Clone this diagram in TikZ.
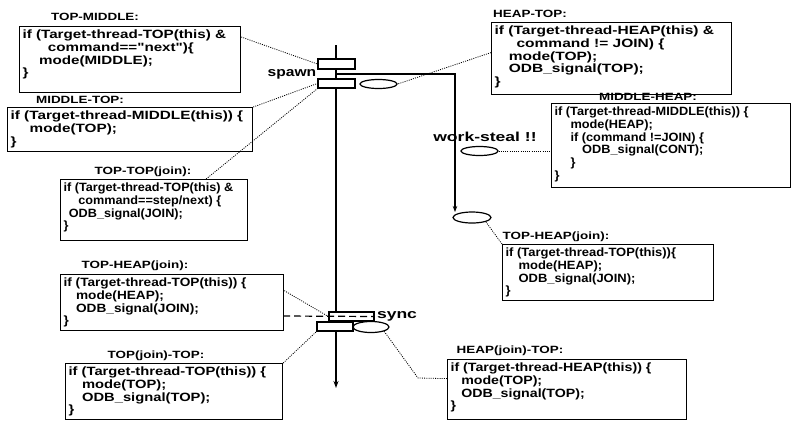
\documentclass[tikz,border=0pt]{standalone}
\usepackage{fontspec}
\setmainfont{Liberation Sans}[Ligatures=TeXOff]
\usepackage{graphicx}
\usetikzlibrary{shapes.geometric,arrows.meta}
\newcommand{\cb}[4]{\parbox[t][#2][t]{#1}{\vspace{0pt}\fontsize{12pt}{12.8pt}\selectfont\bfseries\scalebox{#3}[1]{\begin{tabular}[t]{@{}l@{}}#4\end{tabular}}}}
\newcommand{\lb}[1]{\fontsize{10.5pt}{12pt}\selectfont\bfseries\scalebox{1.28}[1]{#1}}
\newcommand{\ind}[1]{\hspace*{#1pt}}
\begin{document}
\begin{tikzpicture}[x=1pt,y=-1pt,
 cbox/.style={draw, line width=1.2pt, inner xsep=3pt, inner ysep=3pt, anchor=north west},
 lab/.style={inner sep=0pt},
 big/.style={inner sep=0pt, font=\fontsize{13pt}{15pt}\selectfont\bfseries},
 srect/.style={draw, line width=1.3pt, fill=white, rectangle, inner sep=0pt},
 oval/.style={draw, line width=1.2pt, fill=white, ellipse, inner sep=0pt},
 dots/.style={line width=0.8pt, dash pattern=on 1pt off 1.2pt},
 thr/.style={line width=1.6pt}]
\fill[white] (0,0) rectangle (795,424);
\useasboundingbox (0,0) rectangle (795,424);

% threads
\coordinate (mtop) at (336,45);
\coordinate (mbot) at (336,388);
\coordinate (fork) at (336,74);
\coordinate (ws) at (455,212);
\coordinate (d0) at (283,316);
\coordinate (k9) at (418,378);
\draw[thr, -{Stealth[length=7pt,width=5pt]}] (mtop) -- (mbot);
\draw[line width=1.3pt, -{Stealth[length=6pt,width=4.5pt]}] (fork) -| (ws);

% spawn / sync blocks and ovals
\node[srect, minimum width=37pt, minimum height=10pt] (sA) at (336.5,64) {};
\node[srect, minimum width=37pt, minimum height=9pt] (sB) at (336.5,83.5) {};
\node[srect, minimum width=45pt, minimum height=9pt] (yA) at (351.5,316.5) {};
\node[srect, minimum width=36pt, minimum height=9pt] (yB) at (335,326.5) {};
\node[oval, minimum width=37pt, minimum height=9pt] (e1) at (378.5,84) {};
\node[oval, minimum width=37pt, minimum height=9pt] (e2) at (479.5,151) {};
\node[oval, minimum width=38pt, minimum height=11pt] (e3) at (472,217.5) {};
\node[oval, minimum width=36pt, minimum height=11pt] (e4) at (371,327) {};
\draw[line width=1.2pt, dash pattern=on 7pt off 4pt] (d0) -- (yA.east);

\node[big] (spawn) at (292,74) {\scalebox{1.2}[1]{spawn}};
\node[big] (wsl) at (485,137) {\scalebox{1.35}[1]{work-steal !!}};
\node[big] (sync) at (397,316) {\scalebox{1.35}[1]{sync}};

% left boxes
\node[lab] (l1) at (95,17) {\lb{TOP-MIDDLE:}};
\node[cbox] (b1) at (19,26) {\cb{215pt}{60pt}{1.265}{if (Target-thread-TOP(this) \&\\ \ind{20}command=="next")\{\\ \ind{13}mode(MIDDLE);\\ \}}};
\node[lab] (l2) at (80,100) {\lb{MIDDLE-TOP:}};
\node[cbox] (b2) at (7,107) {\cb{239pt}{38pt}{1.275}{if (Target-thread-MIDDLE(this)) \{\\ \ind{15}mode(TOP);\\ \}}};
\node[lab] (l3) at (143,172) {\lb{TOP-TOP(join):}};
\node[cbox] (b3) at (60,179) {\cb{181pt}{55pt}{1.055}{if (Target-thread-TOP(this) \&\\ \ind{14}command==step/next) \{\\ \ind{5}ODB\_signal(JOIN);\\ \}}};
\node[lab] (l4) at (135,266) {\lb{TOP-HEAP(join):}};
\node[cbox] (b4) at (60,274) {\cb{217pt}{50pt}{1.137}{if (Target-thread-TOP(this)) \{\\ \ind{11}mode(HEAP);\\ \ind{11}ODB\_signal(JOIN);\\ \}}};
\node[lab] (l5) at (156,356) {\lb{TOP(join)-TOP:}};
\node[cbox] (b5) at (65,363) {\cb{211pt}{50pt}{1.228}{if (Target-thread-TOP(this)) \{\\ \ind{11}mode(TOP);\\ \ind{11}ODB\_signal(TOP);\\ \}}};

% right boxes
\node[lab] (l6) at (530,14) {\lb{HEAP-TOP:}};
\node[cbox] (b6) at (491,22) {\cb{234pt}{66pt}{1.293}{if (Target-thread-HEAP(this) \&\\ \ind{17}command != JOIN) \{\\ \ind{11}mode(TOP);\\ \ind{11}ODB\_signal(TOP);\\ \}}};
\node[lab] (l7) at (648,97) {\lb{MIDDLE-HEAP:}};
\node[cbox] (b7) at (551,103) {\cb{233pt}{78pt}{1.063}{if (Target-thread-MIDDLE(this)) \{\\ \ind{15}mode(HEAP);\\ \ind{15}if (command !=JOIN) \{\\ \ind{26}ODB\_signal(CONT);\\ \ind{15}\}\\ \}}};
\node[lab] (l8) at (556,237) {\lb{TOP-HEAP(join):}};
\node[cbox] (b8) at (502,244) {\cb{205pt}{50pt}{1.082}{if (Target-thread-TOP(this))\{\\ \ind{12}mode(HEAP);\\ \ind{12}ODB\_signal(JOIN);\\ \}}};
\node[lab] (l9) at (510,351) {\lb{HEAP(join)-TOP:}};
\node[cbox] (b9) at (447,359) {\cb{233pt}{54pt}{1.183}{if (Target-thread-HEAP(this)) \{\\ \ind{9}mode(TOP);\\ \ind{9}ODB\_signal(TOP);\\ \}}};

% dotted connectors
\draw[dots] ([yshift=-11pt]b1.north east) -- (sA.west);
\draw[dots] (b2.north east) -- (sB.west);
\draw[dots] ([xshift=52pt]b3.north) -- (sB.south west);
\draw[dots] ([yshift=6pt]b6.west) -- (e1.east);
\draw[dots] (e2.east) -- (e2.east -| b7.west);
\draw[dots] (e3.south east) -- (b8.north west);
\draw[dots] ([yshift=12pt]b4.east) -- (yA.west);
\draw[dots] (b5.north east) -- (yB.south west);
\draw[dots] (e4.south east) -- (k9) -- ([yshift=11pt]b9.west);
\end{tikzpicture}
\end{document}
